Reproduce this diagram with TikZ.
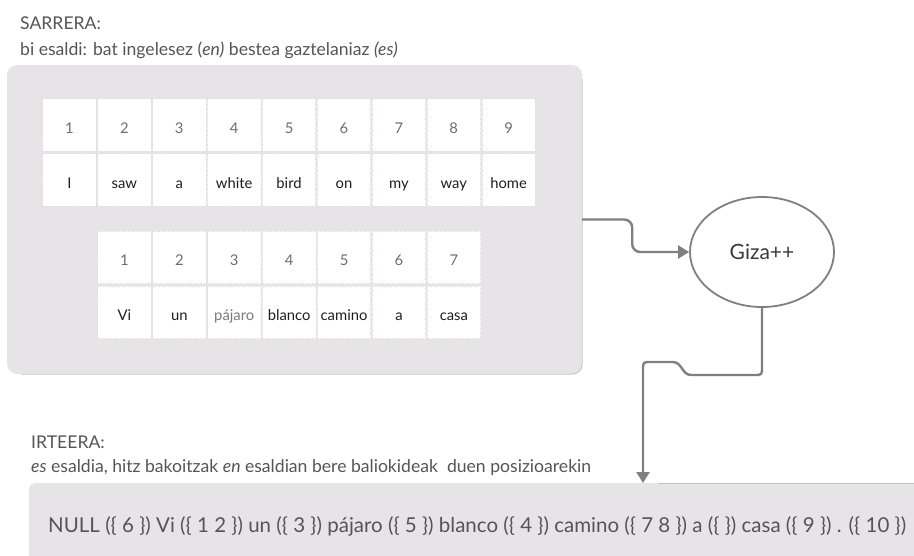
\documentclass[tikz,border=0pt]{standalone}
\usepackage{fontspec}
\setmainfont{Lato}
\usetikzlibrary{shapes.geometric,arrows.meta}
\definecolor{boxfill}{HTML}{E7E4E8}
\definecolor{boxedge}{HTML}{C4C2C5}
\definecolor{celledge}{HTML}{E4E0E4}
\definecolor{wire}{HTML}{808080}
\definecolor{headtext}{HTML}{555555}
\definecolor{numtext}{HTML}{6E6E6E}
\definecolor{wordtext}{HTML}{1F1F1F}
\definecolor{softword}{HTML}{7A7A7A}
\definecolor{gizatext}{HTML}{3A3A3A}

\begin{document}
\begin{tikzpicture}[x=1pt,y=-1pt,
  panel/.style={fill=boxfill, draw=none, inner sep=0pt},
  cell/.style={fill=white, draw=celledge, line width=0.8pt,
    dash pattern=on 1.5pt off 1pt, minimum width=53.5pt, minimum height=52.5pt,
    inner sep=0pt, text height=16pt, text depth=0pt,
    font=\fontsize{14.8}{17}\selectfont},
  numcell/.style={cell, text=numtext},
  wordcell/.style={cell, text=wordtext},
  heading/.style={anchor=base west, inner sep=0pt, text=headtext,
    font=\fontsize{17.6}{20}\selectfont},
  wire/.style={draw=wire, line width=2.4pt,
    -{Triangle[length=11pt,width=13pt]}},
]
\useasboundingbox (0,0) rectangle (914,555);

% input sentences
\node[heading] (inhead) at (20,29) {SARRERA:};
\node[heading] (insub) at (20,55) {bi esaldi: bat ingelesez (\textit{en)} bestea gaztelaniaz \textit{(es)}};

\node[panel, rounded corners=10pt, minimum width=575pt, minimum height=309pt]
  (inbox) at (294.5,219.5) {};
\draw[boxedge, line width=0.9pt, rounded corners=10pt]
  ([yshift=-14pt]inbox.north east) -- (inbox.south east) -- ([xshift=14pt]inbox.south west);

% English sentence
\foreach \i/\w in {1/I,2/saw,3/a,4/white,5/bird,6/on,7/my,8/way,9/home}{
  \node[numcell] (ennum\i) at ({69.45+(\i-1)*54.9},125) {\i};
  \node[wordcell] (enword\i) at ({69.45+(\i-1)*54.9},180) {\w};
}

% Spanish sentence
\foreach \i/\w/\c in {1/Vi/wordtext,2/un/wordtext,3/pájaro/softword,4/blanco/wordtext,
                      5/camino/wordtext,6/a/wordtext,7/casa/wordtext}{
  \node[numcell] (esnum\i) at ({124.45+(\i-1)*54.9},257.5) {\i};
  \node[wordcell, text=\c] (esword\i) at ({124.45+(\i-1)*54.9},312.5) {\w};
}

% aligner
\node[ellipse, draw=wire, line width=1.8pt, fill=white, minimum width=144pt,
  minimum height=110pt, text=gizatext, font=\fontsize{21}{24}\selectfont]
  (giza) at (762,252) {Giza++};

% output
\node[heading] (outhead) at (31,448) {IRTEERA:};
\node[heading] (outsub) at (31,472) {\textit{es} esaldia, hitz bakoitzak \textit{en} esaldian bere baliokideak \ duen posizioarekin};

\node[panel, rounded corners=5pt, anchor=north west, minimum width=900pt,
  minimum height=100pt] (outbox) at (29,483) {};
\coordinate (drop) at (643,483);
\draw[boxedge, line width=0.9pt] ([xshift=15pt]drop) -- (outbox.north east);
\node[anchor=base west, inner sep=0pt, text=headtext,
  font=\fontsize{20.5}{24}\selectfont] (result) at (48,532)
  {NULL (\{ 6 \}) Vi (\{ 1 2 \}) un (\{ 3 \}) pájaro (\{ 5 \}) blanco (\{ 4 \}) camino (\{ 7 8 \}) a (\{ \}) casa (\{ 9 \}) . (\{ 10 \})};

% connectors
\draw[wire, rounded corners=8pt] (inbox.east) -- ++(50,0) |- (giza.west);
\draw[wire] (giza.south) -- (762,367) .. controls (762,375) .. (754,375)
  -- (691,375) .. controls (682,375) and (682,362) .. (673,362)
  -- (651,362) .. controls (643,362) .. (643,370) -- (drop);
\end{tikzpicture}
\end{document}
